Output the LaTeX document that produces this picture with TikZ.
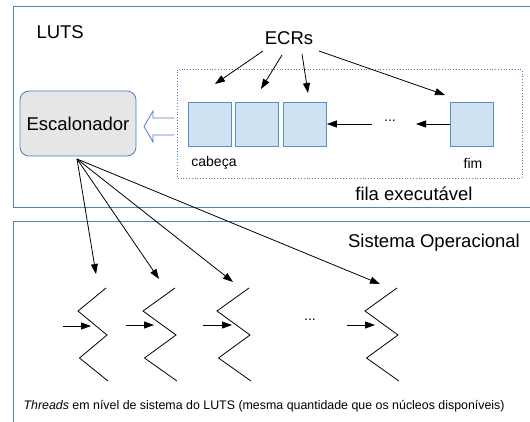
\documentclass[tikz,border=0pt]{standalone}
\usepackage{fontspec}
\setmainfont{Liberation Sans}
\usetikzlibrary{arrows.meta}
\definecolor{frameblue}{HTML}{4F7FBF}
\definecolor{qfill}{HTML}{CFE2F3}
\definecolor{qdraw}{HTML}{5B8DC9}
\definecolor{escfill}{HTML}{E6E6E6}
\tikzset{
  big/.style={font=\fontsize{18.5}{20}\selectfont},
  small/.style={font=\fontsize{14}{16}\selectfont},
  qbox/.style={draw=qdraw, fill=qfill, line width=0.8pt, minimum width=43pt, minimum height=44pt, inner sep=0pt},
  arr/.style={-{Triangle[length=10pt,width=7pt]}, line width=0.8pt},
  zz/.style={line width=0.8pt},
}
\begin{document}
\begin{tikzpicture}[x=1pt,y=-1pt]
\useasboundingbox (0,0) rectangle (530,421);
% frames
\draw[frameblue, line width=0.9pt] (531,6.5) -- (13.5,6.5) -- (13.5,207.5) -- (531,207.5);
\draw[frameblue, line width=0.9pt] (531,221.5) -- (13.5,221.5) -- (13.5,422);
\draw[frameblue, line width=0.8pt, dotted] (177,69.5) rectangle (522,178);
% texts
\node[big, anchor=west] (luts) at (33,32) {LUTS};
\node[big] (ecrs) at (289,38) {ECRs};
\node[big] (fila) at (414,194) {fila executável};
\node[big] (so) at (434,243) {Sistema Operacional};
\node[small] (cab) at (214,163) {cabeça};
\node[small] (fim) at (473,163) {fim};
\node[font=\fontsize{12.4}{14}\selectfont, anchor=west] (foot) at (20,406) {\textit{Threads} em nível de sistema do LUTS (mesma quantidade que os núcleos disponíveis)};
% scheduler
\node[draw=frameblue, fill=escfill, rounded corners=9pt, line width=0.8pt, minimum width=116pt, minimum height=65pt, big] (esc) at (78,123.5) {Escalonador};
% hollow arrow
\draw[frameblue, line width=0.8pt, fill=white] (174,118) -- (153,118) -- (153,111) -- (144,126.5) -- (153,142) -- (153,135) -- (174,135);
% queue
\node[qbox] (q1) at (209.5,124) {};
\node[qbox] (q2) at (257,124) {};
\node[qbox] (q3) at (305,124) {};
\node[qbox] (q4) at (472,124) {};
\node (qdots) at (390,121) {\fontsize{14}{16}\selectfont ...};
\draw[arr] (q4.west) -- (416,124);
\draw[arr] (372,124) -- (q3.east);
% ECR arrows
\coordinate (e1) at (263,51);
\coordinate (e2) at (282,55);
\coordinate (e3) at (302,54);
\coordinate (e4) at (319,51);
\coordinate (t1) at (215,84);
\coordinate (t2) at (261,89);
\coordinate (t3) at (308,93);
\coordinate (t4) at (445,95);
\draw[arr] (e1) -- (t1);
\draw[arr] (e2) -- (t2);
\draw[arr] (e3) -- (t3);
\draw[arr] (e4) -- (t4);
% threads
\coordinate (eb) at (77,159);
\foreach \i/\ax/\bx in {1/78/106, 2/143/175, 3/217/249, 4/365/397}{
  \draw[zz] (\bx,288) -- (\ax,311) -- (\bx+1,335) -- (\ax+1.5,358) -- (\bx+2,381);
  \coordinate (th\i) at (\ax,311);
}
\draw[arr] (eb) -- (96,274);
\draw[arr] (eb) -- (159,279);
\draw[arr] (eb) -- (233,282);
\draw[arr] (eb) -- (380,284);
\draw[arr] (63,326) -- (91,326);
\draw[arr] (126,325) -- (154,325);
\draw[arr] (203,325) -- (232,325);
\draw[arr] (347,325) -- (375,325);
\node (tdots) at (310,320) {\fontsize{14}{16}\selectfont ...};
\end{tikzpicture}
\end{document}
